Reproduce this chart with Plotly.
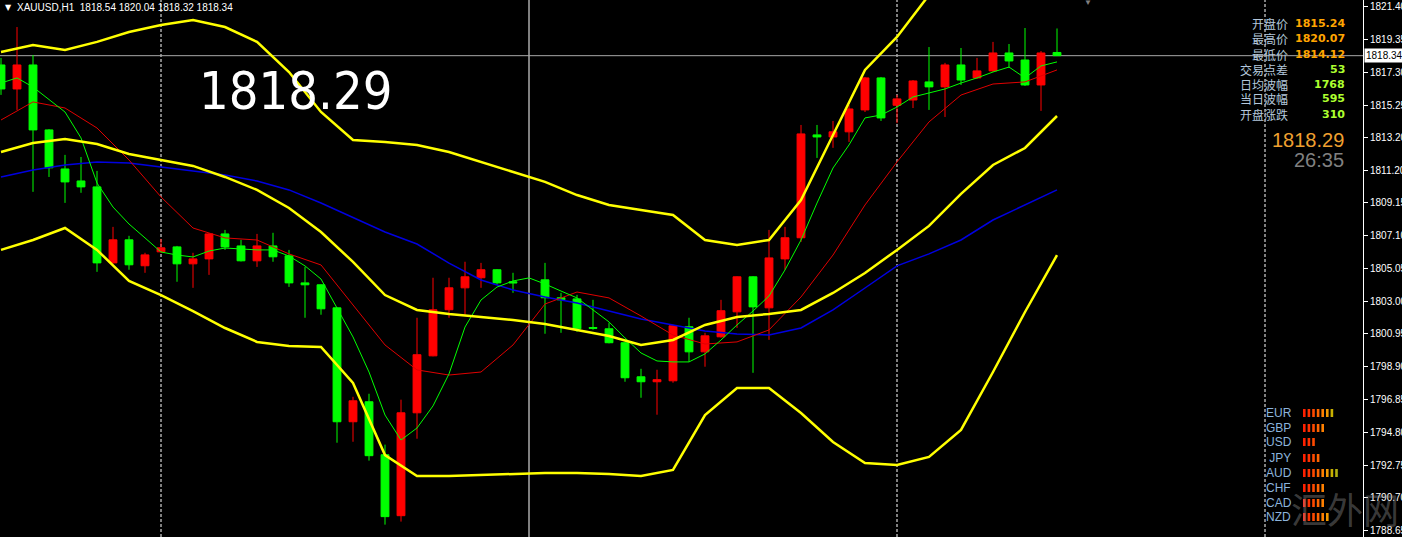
import plotly.graph_objects as go

# ---------------- data ----------------
bar_index = list(range(67))
open_ = [1817.76, 1816.26, 1817.76, 1813.70, 1811.26, 1810.51, 1810.14, 1805.39, 1806.83, 1805.21,
         1806.08, 1806.39, 1805.33, 1805.64, 1807.20, 1806.45, 1805.52, 1806.45, 1805.83, 1804.14,
         1804.02, 1802.58, 1795.46, 1796.71, 1793.40, 1789.59, 1796.02, 1799.58, 1802.46, 1803.83,
         1804.46, 1804.96, 1804.21, None, 1804.33, 1803.21, 1803.14, 1801.35, 1801.27, 1800.40,
         1798.27, 1797.96, 1798.02, 1801.40, 1799.83, 1800.77, 1802.33, 1804.52, 1802.58, 1805.64,
         1806.96, 1813.39, 1813.26, 1813.58, 1814.95, 1816.95, 1815.24, 1815.57, 1816.70, 1816.39,
         1817.76, 1816.95, 1817.39, 1818.51, 1818.07, 1816.51, 1818.54]
high = [1818.20, 1820.13, 1818.38, 1813.75, 1812.14, 1812.01, 1811.14, 1807.64, 1807.08, 1806.02,
        1806.89, 1806.45, 1806.02, 1807.25, 1807.45, 1806.83, 1807.20, 1807.27, 1806.20, 1805.14,
        1804.05, 1802.60, 1797.02, 1797.21, 1794.03, 1796.84, 1801.96, 1804.46, 1804.46, 1805.46,
        1805.39, 1805.00, 1804.77, None, 1805.39, 1803.52, 1803.39, 1803.08, 1801.65, 1800.45,
        1798.77, 1798.71, 1801.52, 1801.96, 1801.02, 1803.08, 1804.55, 1804.56, 1807.45, 1807.64,
        1814.01, 1814.01, 1814.26, 1815.26, 1817.01, 1817.01, 1815.89, 1816.82, 1818.88, 1817.89,
        1818.82, 1818.20, 1819.20, 1819.07, 1820.07, 1818.63, 1820.04]
low = [1815.89, 1814.95, 1809.83, 1810.76, 1809.14, 1809.77, 1804.83, 1805.35, 1804.96, 1804.77,
       1806.02, 1804.21, 1803.83, 1804.64, 1806.20, 1805.48, 1805.14, 1805.46, 1803.89, 1801.96,
       1802.15, 1794.15, 1794.21, 1793.03, 1789.03, 1789.22, 1794.40, 1799.55, 1801.96, 1802.15,
       1803.83, 1804.02, 1803.52, None, 1800.96, 1801.02, 1801.08, 1801.21, 1800.36, 1797.96,
       1796.96, 1795.90, 1797.90, 1799.21, 1798.90, 1800.72, 1801.33, 1798.52, 1800.58, 1804.96,
       1806.70, 1811.95, 1812.58, 1812.95, 1814.82, 1814.26, 1814.12, 1815.07, 1814.95, 1814.51,
       1816.51, 1816.89, 1817.32, 1817.57, 1816.45, 1814.89, 1818.32]
close = [1816.26, 1817.76, 1813.70, 1811.33, 1810.45, 1810.14, 1805.39, 1806.83, 1805.27, 1805.89,
         1806.33, 1805.33, 1805.64, 1807.20, 1806.39, 1805.52, 1806.45, 1805.77, 1804.14, 1804.02,
         1802.52, 1795.46, 1796.77, 1793.34, 1789.53, 1796.02, 1799.65, 1802.46, 1803.83, 1804.52,
         1804.96, 1804.14, 1804.14, None, 1803.21, 1803.08, 1801.27, 1801.30, 1800.40, 1798.21,
         1797.96, 1798.09, 1801.46, 1799.83, 1800.83, 1802.40, 1804.52, 1802.64, 1805.70, 1806.96,
         1813.45, 1813.26, 1813.58, 1815.01, 1816.95, 1814.45, 1815.64, 1816.76, 1816.39, 1817.76,
         1816.82, 1817.39, 1818.51, 1818.01, 1816.51, 1818.51, 1818.34]

# indicator readings (every second bar)
ind_index = list(range(0, 67, 2))
bb_upper = [1818.57, 1819.01, 1818.70, 1819.20, 1819.82, 1820.26, 1820.57, 1820.13, 1819.20, 1817.32,
            1814.82, 1813.07, 1812.95, 1812.76, 1812.32, 1811.70, 1811.07, 1810.45, 1809.63, 1809.01,
            1808.70, 1808.38, 1806.82, 1806.51, 1806.82, 1809.32, 1813.38, 1817.45, 1819.51, 1822.13,
            1823.70, 1824.32, 1822.70, 1823.26]
bb_mid = [1812.32, 1812.88, 1813.13, 1812.82, 1812.20, 1811.82, 1811.45, 1810.76, 1809.95, 1808.82,
          1807.32, 1805.45, 1803.38, 1802.45, 1802.20, 1802.01, 1801.82, 1801.57, 1801.20, 1800.82,
          1800.26, 1800.57, 1801.51, 1802.01, 1802.20, 1802.45, 1803.51, 1804.76, 1806.20, 1807.70,
          1809.70, 1811.51, 1812.57, 1814.57]
bb_lower = [1806.20, 1806.82, 1807.57, 1806.20, 1804.26, 1803.38, 1802.38, 1801.32, 1800.45, 1800.20,
            1800.13, 1797.88, 1793.38, 1792.07, 1792.07, 1792.13, 1792.20, 1792.26, 1792.26, 1792.20,
            1792.07, 1792.45, 1795.88, 1797.57, 1797.57, 1796.01, 1794.20, 1792.88, 1792.76, 1793.26,
            1794.95, 1798.57, 1802.32, 1805.88]
ma_slow = [1810.76, 1811.20, 1811.51, 1811.70, 1811.63, 1811.38, 1811.13, 1810.88, 1810.51, 1809.95,
           1809.13, 1808.20, 1807.32, 1806.57, 1805.38, 1804.32, 1803.70, 1803.26, 1802.88, 1802.38,
           1801.88, 1801.51, 1801.13, 1800.95, 1800.88, 1801.32, 1802.45, 1803.82, 1805.20, 1805.95,
           1806.82, 1808.07, 1809.01, 1809.95]
ma_mid = [1814.32, 1815.45, 1815.07, 1813.82, 1811.82, 1809.51, 1807.57, 1806.95, 1806.82, 1805.95,
          1805.26, 1802.76, 1800.26, 1798.70, 1798.38, 1798.57, 1800.26, 1802.82, 1803.57, 1803.20,
          1802.07, 1800.88, 1800.32, 1800.45, 1801.20, 1803.26, 1805.88, 1809.01, 1811.70, 1814.20,
          1815.88, 1816.57, 1816.70, 1817.45]
# fast MA, every bar
ma_fast = [1816.63, 1816.95, 1816.38, 1815.57, 1814.82, 1813.20, 1810.38, 1808.88, 1807.82, 1806.95,
           1806.07, 1805.88, 1805.76, 1806.13, 1806.32, 1806.26, 1806.20, 1806.20, 1805.82, 1805.20,
           1804.38, 1802.57, 1800.76, 1798.57, 1795.88, 1794.32, 1795.07, 1796.45, 1798.45, 1801.38,
           1803.07, 1803.88, 1804.26, 1804.45, 1804.07, 1803.63, 1803.20, 1802.45, 1801.70, 1800.70,
           1799.76, 1799.26, 1799.20, 1799.20, 1799.70, 1800.57, 1801.51, 1802.38, 1803.32, 1804.95,
           1806.82, 1809.13, 1811.32, 1812.76, 1814.45, 1814.63, 1815.13, 1815.76, 1816.01, 1816.26,
           1816.63, 1816.95, 1817.32, 1817.63, 1816.95, 1817.70, 1817.95]

tick_vals = [1821.40, 1819.35, 1817.30, 1815.25, 1813.20, 1811.15, 1809.15, 1807.10, 1805.05, 1803.00,
             1800.95, 1798.90, 1796.85, 1794.80, 1792.75, 1790.70, 1788.65]
tick_text = ["1821.40", "1819.35", "1817.30", "1815.25", "1813.20", "1811.20", "1809.15", "1807.10",
             "1805.05", "1803.00", "1800.95", "1798.90", "1796.85", "1794.80", "1792.75", "1790.70",
             "1788.65"]

header_text = "XAUUSD,H1  1818.54 1820.04 1818.32 1818.34"
last_price = 1818.34
bid_big = "1818.29"
timer_text = "26:35"
info_labels = ["开盘价", "最高价", "最低价", "交易点差", "日均波幅", "当日波幅", "开盘涨跌"]
info_values = ["1815.24", "1820.07", "1814.12", "53", "1768", "595", "310"]
currencies = ["EUR", "GBP", "USD", " JPY", "AUD", "CHF", "CAD", "NZD"]
strength = [7, 5, 3, 4, 8, 5, 5, 6]
dashed_sep = [10, 56, 79]
solid_sep = [33]

# ---------------- figure ----------------
W, H = 1402, 537
PW = 1363  # plot area width in px


def px(x):
    return x / PW


def py(y):
    return 1 - y / H


fig = go.Figure()

fig.add_trace(go.Candlestick(
    x=bar_index, open=open_, high=high, low=low, close=close,
    increasing=dict(line=dict(color="#ff0000", width=1), fillcolor="#ff0000"),
    decreasing=dict(line=dict(color="#00ff00", width=1), fillcolor="#00ff00"),
    whiskerwidth=0, showlegend=False, hoverinfo="skip"))

line_specs = [
    (ind_index, ma_slow, "#0000e0", 1.5),
    (ind_index, ma_mid, "#e00000", 1),
    (bar_index, ma_fast, "#00ff00", 1),
    (ind_index, bb_upper, "#ffff00", 2.5),
    (ind_index, bb_mid, "#ffff00", 2.5),
    (ind_index, bb_lower, "#ffff00", 2.5),
]
for xs, ys, col, w in line_specs:
    fig.add_trace(go.Scatter(x=xs, y=ys, mode="lines", line=dict(color=col, width=w),
                             showlegend=False, hoverinfo="skip"))

shapes = []
for k in dashed_sep:
    shapes.append(dict(type="line", xref="x", yref="paper", x0=k, x1=k, y0=0, y1=1,
                       line=dict(color="#ffffff", width=1, dash="3px,2px"), layer="below"))
for k in solid_sep:
    shapes.append(dict(type="line", xref="x", yref="paper", x0=k, x1=k, y0=0, y1=1,
                       line=dict(color="#ffffff", width=1), layer="below"))
shapes.append(dict(type="line", xref="paper", yref="y", x0=0, x1=1, y0=last_price, y1=last_price,
                   line=dict(color="#a8a8a8", width=1), layer="below"))

annotations = []
annotations.append(dict(xref="paper", yref="paper", x=px(3), y=py(8), text="▼", showarrow=False,
                        xanchor="left", yanchor="middle", font=dict(color="white", size=8, family="DejaVu Sans")))
annotations.append(dict(xref="paper", yref="paper", x=px(15), y=py(8), text=header_text, showarrow=False,
                        xanchor="left", yanchor="middle",
                        font=dict(color="white", size=10, family="Liberation Sans")))
annotations.append(dict(xref="paper", yref="paper", x=px(1088), y=py(1), text="▼", showarrow=False,
                        xanchor="center", yanchor="middle", font=dict(color="#808080", size=8)))
annotations.append(dict(xref="paper", yref="paper", x=px(295), y=py(91), text=bid_big, showarrow=False,
                        xanchor="center", yanchor="middle",
                        font=dict(color="white", size=52, family="DejaVu Sans Condensed")))

row_y = [24, 39, 54, 69, 84, 99, 114]
for i, (lab, val) in enumerate(zip(info_labels, info_values)):
    annotations.append(dict(xref="paper", yref="paper", x=px(1290), y=py(row_y[i]), text=lab,
                            showarrow=False, xanchor="right", yanchor="middle",
                            font=dict(color="#b4c8dc", size=12, family="Noto Sans CJK SC")))
    annotations.append(dict(xref="paper", yref="paper", x=px(1347), y=py(row_y[i]), text="<b>%s</b>" % val,
                            showarrow=False, xanchor="right", yanchor="middle",
                            font=dict(color="#ffa500" if i < 3 else "#adff2f", size=11,
                                      family="DejaVu Sans")))
annotations.append(dict(xref="paper", yref="paper", x=px(1346), y=py(140), text=bid_big, showarrow=False,
                        xanchor="right", yanchor="middle",
                        font=dict(color="#f0a030", size=20, family="Liberation Sans")))
annotations.append(dict(xref="paper", yref="paper", x=px(1346), y=py(160), text=timer_text, showarrow=False,
                        xanchor="right", yanchor="middle",
                        font=dict(color="#808080", size=20, family="Liberation Sans")))

bar_cols = ["#ff2000", "#ff3000", "#ff4a00", "#ff6400", "#ff8000", "#f09800", "#c8b000", "#b0b010"]
cur_y = [413, 428, 442, 458, 473, 488, 503, 517]
for i, (cur, n) in enumerate(zip(currencies, strength)):
    annotations.append(dict(xref="paper", yref="paper", x=px(1264), y=py(cur_y[i]), text=cur,
                            showarrow=False, xanchor="left", yanchor="middle",
                            font=dict(color="#8cb4dc", size=12, family="Liberation Sans")))
    for j in range(n):
        x0 = 1303 + j * 4.6
        shapes.append(dict(type="rect", xref="paper", yref="paper", x0=px(x0), x1=px(x0 + 2.6),
                           y0=py(cur_y[i] + 4), y1=py(cur_y[i] - 4), line=dict(width=0),
                           fillcolor=bar_cols[j]))

annotations.append(dict(xref="paper", yref="y", x=1, y=last_price, text="1818.34", showarrow=False,
                        xanchor="left", yanchor="middle", xshift=1, bgcolor="white", borderpad=1,
                        font=dict(color="black", size=10, family="Liberation Sans")))
annotations.append(dict(xref="paper", yref="paper", x=px(1345), y=py(508), text="汇外网", showarrow=False,
                        xanchor="center", yanchor="middle",
                        font=dict(color="rgba(150,150,150,0.40)", size=36, family="Noto Sans CJK SC")))

fig.update_layout(
    width=W, height=H,
    margin=dict(l=0, r=W - PW, t=0, b=0),
    paper_bgcolor="black", plot_bgcolor="black",
    showlegend=False,
    shapes=shapes, annotations=annotations,
    xaxis=dict(range=[-1 / 16, (PW - 1) / 16], showgrid=False, zeroline=False, showticklabels=False,
               rangeslider=dict(visible=False), fixedrange=True, showline=False),
    yaxis=dict(range=[1821.82 - H / 16, 1821.82], side="right", showgrid=False, zeroline=False,
               tickvals=tick_vals, ticktext=tick_text, ticks="outside", ticklen=4, tickcolor="white",
               showline=True, linecolor="white", linewidth=1, automargin=False, fixedrange=True,
               tickfont=dict(color="white", size=10, family="Liberation Sans")),
)

fig.write_html("out.html", config={"displayModeBar": False, "staticPlot": True},
               post_script="document.body.style.margin='0';document.body.style.background='black';")
